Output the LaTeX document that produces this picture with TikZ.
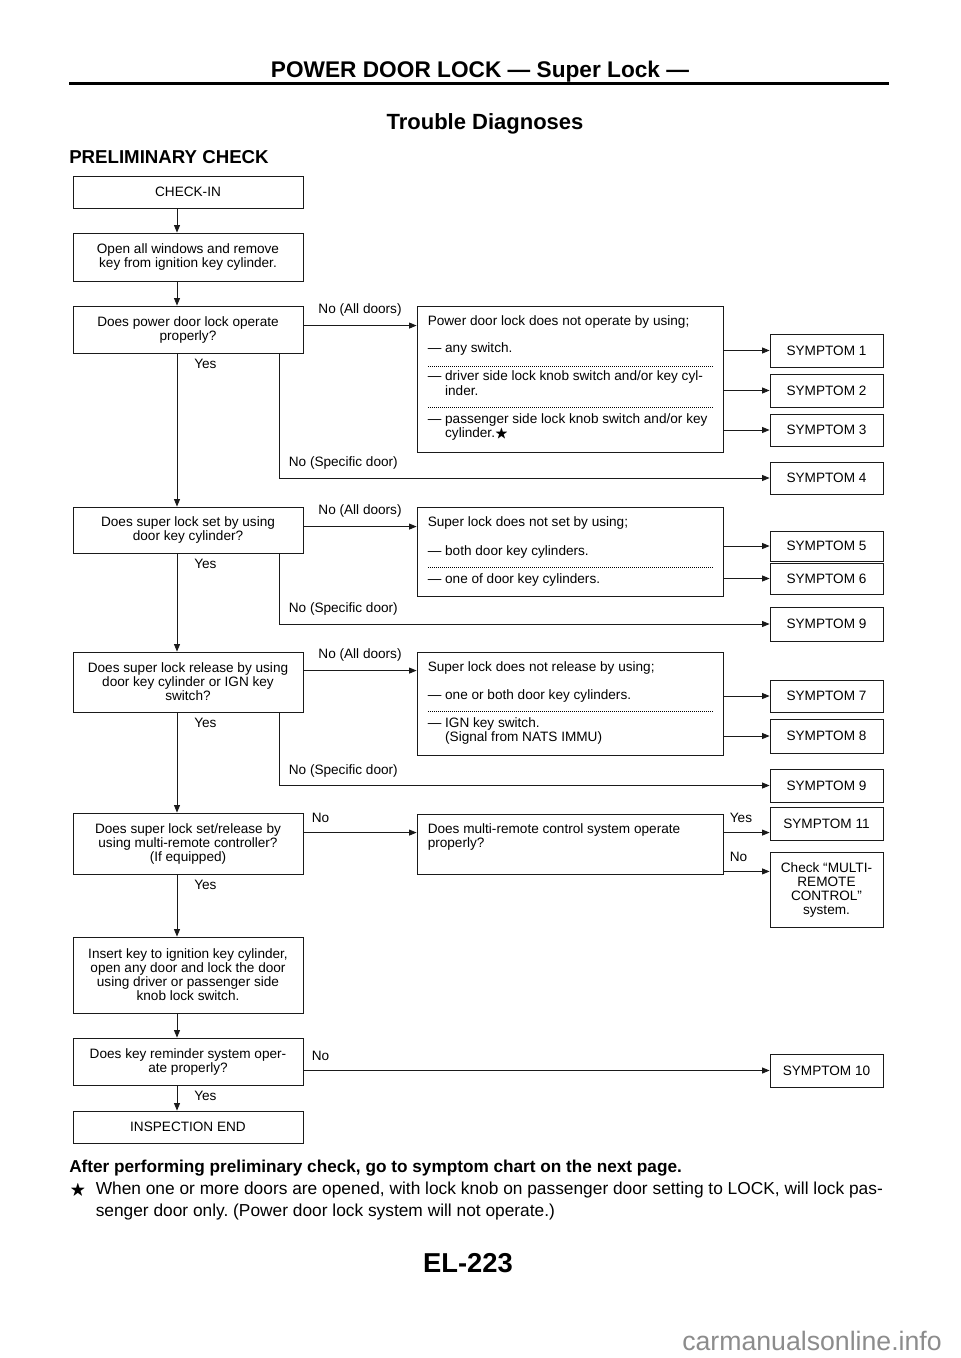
\documentclass[tikz,border=0pt]{standalone}
\usepackage{amsmath,amssymb}
\usepackage{fontspec}
\setmainfont{Liberation Sans}
\usepackage{tikz}
\usetikzlibrary{arrows.meta,positioning}
\definecolor{boxline}{HTML}{1A1A1A}
\definecolor{markgray}{HTML}{8C8C8C}
\newcommand{\boxfont}{\fontsize{10.2}{10.5}\selectfont}
\frenchspacing

\begin{document}
\begin{tikzpicture}[
  x=0.75pt, y=-0.75pt,
  box/.style={
    draw=boxline,
    line width=0.65pt,
    rectangle,
    inner sep=0pt,
    align=center,
    font=\boxfont,
    minimum width=172.5pt
  },
  mid/.style={draw=boxline, line width=0.65pt, rectangle, inner sep=0pt, minimum width=229.5pt},
  sym/.style={draw=boxline, line width=0.65pt, rectangle, inner sep=0pt, align=center, font=\boxfont, minimum width=84.75pt},
  txt/.style={anchor=base west, inner sep=0pt, font=\boxfont},
  lbl/.style={inner sep=0pt, font=\boxfont},
  yes/.style={lbl, anchor=west, xshift=12.75pt, yshift=-7.5pt},
  nolbl/.style={lbl, anchor=south west, xshift=6pt, yshift=6.8pt},
  spec/.style={lbl, anchor=south west, xshift=6.75pt, yshift=6pt},
  arr/.style={draw=boxline, line width=0.65pt, -{Triangle[length=5.5pt,width=4.4pt]}},
  sep/.style={line width=0.5pt, dash pattern=on 0.45pt off 1.05pt}
]

\path[use as bounding box, fill=white] (0,0) rectangle (960,1358);

% --- Header ---
\node[font=\fontsize{17}{20}\selectfont\bfseries] (head) at (480,72) {POWER DOOR LOCK — Super Lock —};
\draw[line width=2.25pt] (69,84) -- (889,84);
\node[font=\fontsize{16.5}{20}\selectfont\bfseries] (title) at (485,124) {Trouble Diagnoses};
\node[anchor=west, inner sep=0pt, font=\fontsize{14}{17}\selectfont\bfseries] (prelim) at (69,157) {PRELIMINARY CHECK};

% --- Main column ---
\coordinate (spine) at (177,0);
\node[box, minimum height=24pt] (c0) at (188,192) {CHECK-IN};
\node[box, minimum height=36pt] (c1) at (188,257) {Open all windows and remove\\key from ignition key cylinder.};
\node[box, minimum height=35.25pt] (q1) at (188,329.5) {Does power door lock operate\\properly?};
\node[box, minimum height=34.5pt] (q2) at (188,530) {Does super lock set by using\\door key cylinder?};
\node[box, minimum height=45pt] (q3) at (188,682) {Does super lock release by using\\door key cylinder or IGN key\\switch?};
\node[box, minimum height=45.75pt] (q4) at (188,843.5) {Does super lock set/release by\\using multi-remote controller?\\(If equipped)};
\node[box, minimum height=57pt] (c2) at (188,975) {Insert key to ignition key cylinder,\\open any door and lock the door\\using driver or passenger side\\knob lock switch.};
\node[box, minimum height=35.25pt] (q5) at (188,1061.5) {Does key reminder system oper-\\ate properly?};
\node[box, minimum height=24pt] (c3) at (188,1127) {INSPECTION END};

\foreach \a/\b in {c0/c1, c1/q1, q1/q2, q2/q3, q3/q4, q4/c2, c2/q5, q5/c3}
  \draw[arr] (\a.south -| spine) -- (\b.north -| spine);
\foreach \q in {q1, q2, q3, q4, q5}
  \path (\q.south -| spine) node[yes] (\q-yes) {Yes};

% --- Middle boxes ---
\node[mid, minimum height=109.5pt] (pdl) at (570,379) {};
\foreach \y/\t [count=\i] in {326/{Power door lock does not operate by using;}, 353/{— any switch.}, 381/{— driver side lock knob switch and/or key cyl-}, 395/{\phantom{— }inder.}, 423/{— passenger side lock knob switch and/or key}, 437/{\phantom{— }cylinder.$\bigstar$}}
  \node[txt] (pdl-\i) at (427.5,\y) {\t};
\draw[sep] (428,366) -- (713,366);
\draw[sep] (428,407) -- (713,407);

\node[mid, minimum height=66.75pt] (sls) at (570,551.5) {};
\foreach \y/\t [count=\i] in {526/{Super lock does not set by using;}, 555/{— both door key cylinders.}, 583/{— one of door key cylinders.}}
  \node[txt] (sls-\i) at (427.5,\y) {\t};
\draw[sep] (428,567) -- (713,567);

\node[mid, minimum height=77.25pt] (slr) at (570,703.5) {};
\foreach \y/\t [count=\i] in {671/{Super lock does not release by using;}, 699/{— one or both door key cylinders.}, 727/{— IGN key switch.}, 741/{\phantom{— }(Signal from NATS IMMU)}}
  \node[txt] (slr-\i) at (427.5,\y) {\t};
\draw[sep] (428,711) -- (713,711);

\node[mid, minimum height=45pt] (mrc) at (570,844) {};
\foreach \y/\t [count=\i] in {833/{Does multi-remote control system operate}, 847/{properly?}}
  \node[txt] (mrc-\i) at (427.5,\y) {\t};

% --- Symptom boxes ---
\foreach \n/\y/\h/\t in {s1/350.5/24.75pt/SYMPTOM 1, s2/390.5/24.75pt/SYMPTOM 2, s3/430/24pt/SYMPTOM 3, s4/478/24pt/SYMPTOM 4, s5/546/22.5pt/SYMPTOM 5, s6/578.5/23.25pt/SYMPTOM 6, s9a/624/25.5pt/SYMPTOM 9, s7/696/24pt/SYMPTOM 7, s8/736/25.5pt/SYMPTOM 8, s9b/785.5/24.75pt/SYMPTOM 9, s11/823.5/24.75pt/SYMPTOM 11, s10/1070.5/24.75pt/SYMPTOM 10}
  \node[sym, minimum height=\h] (\n) at (826.5,\y) {\t};
\node[sym, minimum height=56.25pt] (chk) at (826.5,889.5) {Check ``MULTI-\\REMOTE\\CONTROL''\\system.};

% --- No (All doors) ---
\draw[arr] ([yshift=-15pt]q1.north east) coordinate (q1-out) -- node[lbl, above=6.5pt] (q1-no) {No (All doors)} (q1-out -| pdl.west);
\draw[arr] ([yshift=-15pt]q2.north east) coordinate (q2-out) -- node[lbl, above=6.5pt] (q2-no) {No (All doors)} (q2-out -| sls.west);
\draw[arr] ([yshift=-14.25pt]q3.north east) coordinate (q3-out) -- node[lbl, above=6.5pt] (q3-no) {No (All doors)} (q3-out -| slr.west);
\draw[arr] ([yshift=-15pt]q4.north east) coordinate (q4-out) -- node[nolbl, pos=0] (q4-no) {No} (q4-out -| mrc.west);
\draw[arr] (q5.east |- s10.west) -- node[nolbl, pos=0] (q5-no) {No} (s10.west);

\foreach \s in {s1, s2, s3}
  \draw[arr] (pdl.east |- \s.west) -- (\s.west);
\foreach \s in {s5, s6}
  \draw[arr] (sls.east |- \s.west) -- (\s.west);
\foreach \s in {s7, s8}
  \draw[arr] (slr.east |- \s.west) -- (\s.west);
\draw[arr] ([yshift=-14.25pt]mrc.north east) coordinate (mrc-yes) -- node[nolbl, pos=0, xshift=-1.5pt] (mrc-y) {Yes} (mrc-yes -| s11.west);
\draw[arr] ([yshift=2.25pt]mrc.south east) coordinate (mrc-no) -- node[nolbl, pos=0, xshift=-1.5pt] (mrc-n) {No} (mrc-no -| chk.west);

% --- No (Specific door) ---
\draw[arr] ([xshift=-18pt]q1.south east) |- node[spec, pos=0.5] (q1-spec) {No (Specific door)} (s4.west);
\draw[arr] ([xshift=-18pt]q2.south east) |- node[spec, pos=0.5] (q2-spec) {No (Specific door)} (s9a.west);
\draw[arr] ([xshift=-18pt]q3.south east) |- node[spec, pos=0.5] (q3-spec) {No (Specific door)} (s9b.west);

% --- Footer ---
\node[anchor=west, inner sep=0pt, font=\fontsize{12.9}{15}\selectfont\bfseries] (after) at (69,1168) {After performing preliminary check, go to symptom chart on the next page.};
\node[anchor=base west, inner sep=0pt, font=\fontsize{12}{14}\selectfont] (star) at (70,1194.5) {$\bigstar$};
\node[anchor=base west, inner sep=0pt, font=\fontsize{13}{16.5}\selectfont] (note1) at (95.5,1194.5) {When one or more doors are opened, with lock knob on passenger door setting to LOCK, will lock pas-};
\node[anchor=base west, inner sep=0pt, font=\fontsize{13}{16.5}\selectfont] (note2) at (95.5,1216.5) {senger door only. (Power door lock system will not operate.)};
\node[font=\fontsize{20.5}{24}\selectfont\bfseries] (page) at (468,1263) {EL-223};
\node[text=markgray, font=\fontsize{20}{24}\selectfont] (mark) at (812,1341) {carmanualsonline.info};

\end{tikzpicture}
\end{document}
